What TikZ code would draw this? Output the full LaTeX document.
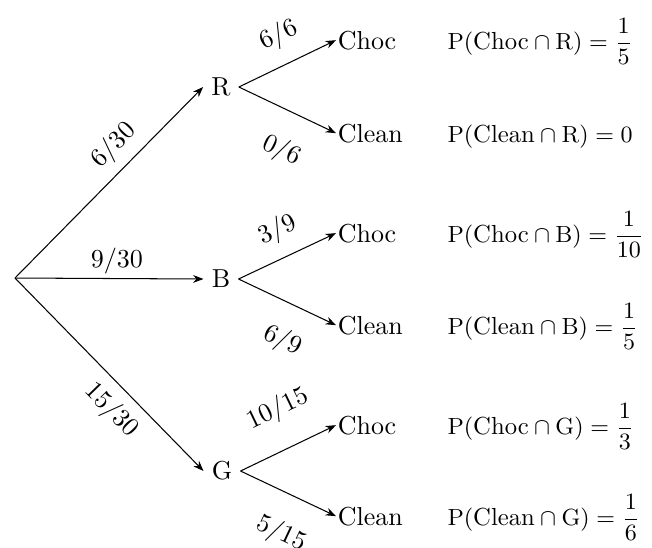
\documentclass[tikz,border=0pt]{standalone}
\usepackage{amsmath}
\usetikzlibrary{arrows.meta}
\begin{document}
\begin{tikzpicture}[x=0.385pt,y=-0.385pt,
  arr/.style={-{Stealth[length=4pt,width=3pt]},line width=0.4pt},
  lab/.style={sloped,inner sep=1pt},
  mid/.style={inner sep=3pt},
  leaf/.style={anchor=base west,inner sep=0.5pt},
  prob/.style={anchor=base west,inner sep=0pt,font=\fontsize{9.5}{11}\selectfont}]
\useasboundingbox (0,0) rectangle (652,547);
\coordinate (O) at (15,278);
\node[mid] (R) at (221,87) {$\mathrm{R}$};
\node[mid] (B) at (221,279) {$\mathrm{B}$};
\node[mid] (G) at (222,471) {$\mathrm{G}$};
\node[leaf] (RC) at (336,49) {Choc};
\node[leaf] (RL) at (336,142) {Clean};
\node[leaf] (BC) at (336,242) {Choc};
\node[leaf] (BL) at (336,334) {Clean};
\node[leaf] (GC) at (336,434) {Choc};
\node[leaf] (GL) at (336,525) {Clean};
\node[prob] (pRC) at (447,49) {$\mathrm{P}(\text{Choc}\cap \mathrm{R})=\dfrac{1}{5}$};
\node[prob] (pRL) at (447,142) {$\mathrm{P}(\text{Clean}\cap \mathrm{R})=0$};
\node[prob] (pBC) at (447,242) {$\mathrm{P}(\text{Choc}\cap \mathrm{B})=\dfrac{1}{10}$};
\node[prob] (pBL) at (447,334) {$\mathrm{P}(\text{Clean}\cap \mathrm{B})=\dfrac{1}{5}$};
\node[prob] (pGC) at (447,434) {$\mathrm{P}(\text{Choc}\cap \mathrm{G})=\dfrac{1}{3}$};
\node[prob] (pGL) at (447,525) {$\mathrm{P}(\text{Clean}\cap \mathrm{G})=\dfrac{1}{6}$};
\draw[arr] (O) -- node[lab,pos=0.61,above=2.5pt]{$6/30$} (R.west);
\draw[arr] (O) -- node[lab,pos=0.54,above=0.5pt]{$9/30$} (B.west);
\draw[arr] (O) -- node[lab,pos=0.6,below=3pt]{$15/30$} (G.west);
\draw[arr] (R.east) -- node[lab,pos=0.54,above=5pt]{$6/6$} (RC.west);
\draw[arr] (R.east) -- node[lab,pos=0.61,below=9pt]{$0/6$} (RL.west);
\draw[arr] (B.east) -- node[lab,pos=0.52,above=4.5pt]{$3/9$} (BC.west);
\draw[arr] (B.east) -- node[lab,pos=0.61,below=8pt]{$6/9$} (BL.west);
\draw[arr] (G.east) -- node[lab,pos=0.57,above=9pt]{$10/15$} (GC.west);
\draw[arr] (G.east) -- node[lab,pos=0.6,below=9pt]{$5/15$} (GL.west);
\end{tikzpicture}
\end{document}
